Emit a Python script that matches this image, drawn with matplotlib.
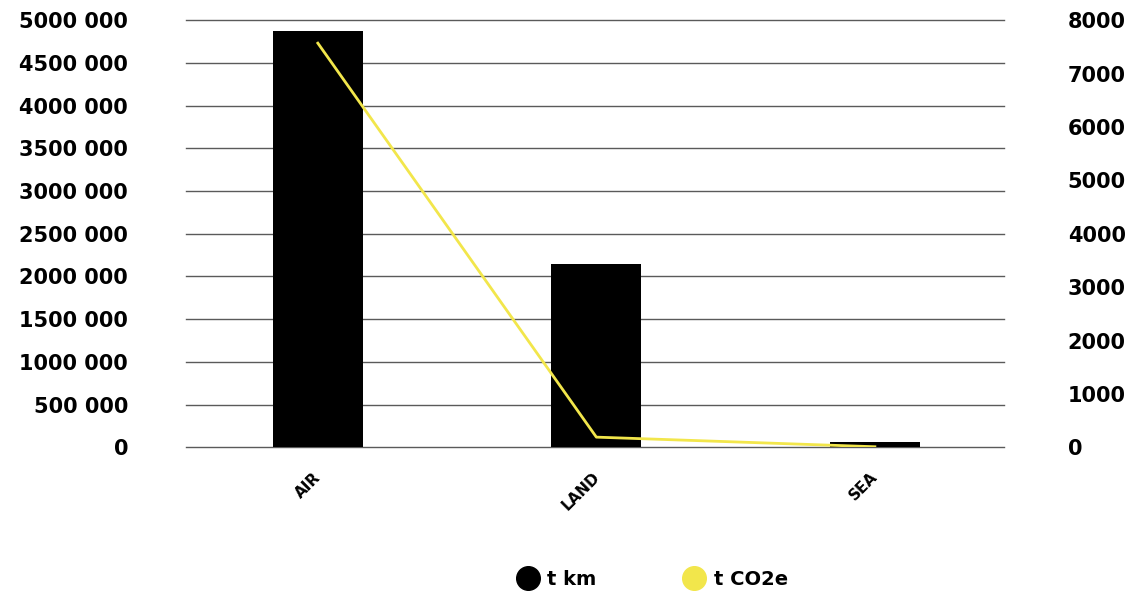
import matplotlib.pyplot as plt
import matplotlib.transforms as mtransforms
from matplotlib.lines import Line2D
from matplotlib.ticker import FuncFormatter
import numpy as np

categories = ['AIR', 'LAND', 'SEA']
t_km = [4871000, 2143000, 58000]
t_co2e = [7570, 190, 10]

plt.rcParams['font.family'] = ['DejaVu Sans']
plt.rcParams['font.weight'] = 'bold'

yellow = '#f2e64b'

fig = plt.figure(figsize=(11.33, 5.94), dpi=100)
ax = fig.add_axes([0.164, 0.247, 0.722, 0.719])
ax2 = ax.twinx()

x = np.arange(len(categories))
ax.bar(x, t_km, width=0.323, color='black', zorder=3)
ax2.plot(x, t_co2e, color=yellow, linewidth=2, zorder=4)

ax.set_xlim(-0.474, 2.463)
ax.set_ylim(0, 5000000)
ax.set_yticks(np.arange(0, 5000001, 500000))
ax.yaxis.set_major_formatter(FuncFormatter(
    lambda v, p: '0' if v == 0 else f"{int(v) // 1000} {int(v) % 1000:03d}"))
ax2.set_ylim(0, 8000)
ax2.set_yticks(np.arange(0, 8001, 1000))

ax.grid(True, axis='y', color='#5a5a5a', linewidth=1, zorder=0)
for gl in ax.get_ygridlines():
    gl.set_clip_on(False)
ax.set_axisbelow(True)
ax2.set_zorder(ax.get_zorder() + 1)
ax2.patch.set_visible(False)

for a in (ax, ax2):
    for s in a.spines.values():
        s.set_visible(False)
    a.tick_params(length=0, labelsize=15)

# pads are in points: ~58 px on the left, ~64 px on the right
ax.tick_params(axis='y', pad=41.5)
ax2.tick_params(axis='y', pad=46)

ax.set_xticks(x)
ax.set_xticklabels(categories, rotation=45, ha='right', fontsize=11)
ax.tick_params(axis='x', pad=16)
# nudge the rotated category labels a little to the right
shift = mtransforms.ScaledTranslation(6 / 100, 0, fig.dpi_scale_trans)
for lbl in ax.get_xticklabels():
    lbl.set_transform(lbl.get_transform() + shift)

handles = [
    Line2D([], [], marker='o', linestyle='', color='black', markersize=17),
    Line2D([], [], marker='o', linestyle='', color=yellow, markersize=17),
]
fig.legend(handles, ['t km', 't CO2e'], loc='center', bbox_to_anchor=(0.572, 0.025),
           ncol=2, frameon=False, fontsize=14, handletextpad=0.0, columnspacing=4.05)

fig.savefig('out.png', dpi=100)
